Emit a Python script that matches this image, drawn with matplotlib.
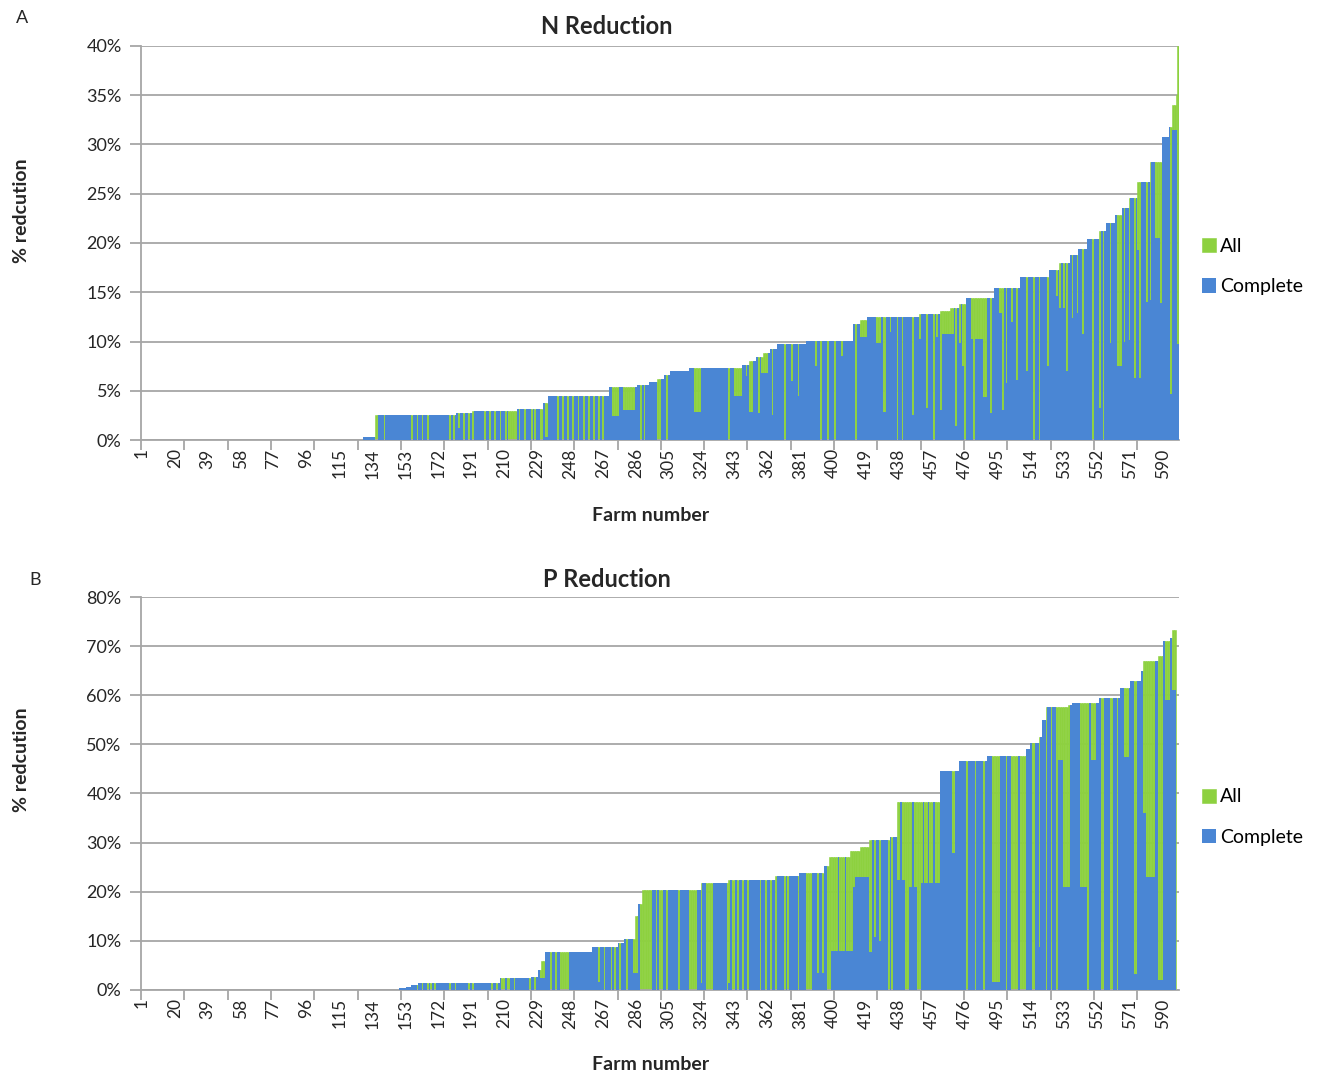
import numpy as np
import matplotlib.pyplot as plt
from matplotlib.ticker import PercentFormatter

plt.rcParams['font.family'] = ['Lato', 'DejaVu Sans']

GREEN = '#8DD13F'
BLUE = '#4A86D4'
GRID = '#A6A6A6'

N_FARMS = 599
farm_ids = np.arange(1, N_FARMS + 1)
tick_farms = list(range(1, 591, 19))

n_all_runs = [
    (129, 135, 0.3), (136, 182, 2.5), (183, 191, 2.7), (192, 217, 2.9),
    (218, 232, 3.1), (233, 235, 3.8), (236, 270, 4.5), (271, 286, 5.4),
    (287, 293, 5.6), (294, 298, 5.9), (299, 302, 6.2), (303, 305, 6.6),
    (306, 316, 7.0), (317, 347, 7.3), (348, 351, 7.6), (352, 355, 8.0),
    (356, 359, 8.4), (360, 363, 8.8), (364, 367, 9.2), (368, 384, 9.7),
    (385, 411, 10.1), (412, 415, 11.8), (416, 419, 12.2), (420, 449, 12.5),
    (450, 461, 12.8), (462, 467, 13.1), (468, 472, 13.4), (473, 476, 13.8),
    (477, 492, 14.4), (493, 507, 15.4), (508, 524, 16.5), (525, 530, 17.3),
    (531, 536, 18.0), (537, 541, 18.8), (542, 546, 19.4), (547, 553, 20.4),
    (554, 557, 21.2), (558, 562, 22.0), (563, 566, 22.8), (567, 570, 23.6),
    (571, 575, 24.6), (576, 582, 26.2), (583, 589, 28.2), (590, 593, 30.8),
    (594, 595, 31.8), (596, 597, 34.0), (598, 598, 35.0), (599, 599, 40.0),
]

# farms where "Complete" sits below "All" (first farm, last farm, value)
n_complete_dips = [
    (136, 137, 0), (141, 141, 0), (157, 157, 0), (160, 160, 0), (163, 163, 0),
    (166, 166, 0), (179, 179, 0), (181, 181, 0), (184, 184, 1.2), (187, 187, 0),
    (190, 190, 0), (192, 192, 0), (199, 199, 0), (202, 202, 0), (205, 205, 0),
    (208, 208, 0), (211, 211, 0), (213, 217, 0), (219, 219, 0), (222, 222, 0),
    (226, 226, 0), (228, 228, 0), (231, 232, 0), (234, 235, 0.3), (241, 241, 0),
    (244, 244, 0), (247, 247, 0), (250, 250, 0), (253, 253, 0), (256, 256, 0),
    (259, 259, 0), (262, 262, 0), (265, 265, 0), (267, 267, 0), (273, 276, 2.4),
    (279, 285, 3.0), (289, 289, 0), (291, 291, 0), (299, 300, 0), (304, 304, 0),
    (320, 323, 2.8), (340, 340, 0), (343, 347, 4.5), (350, 350, 6.5),
    (352, 353, 2.8), (357, 357, 2.7), (359, 362, 6.8), (365, 365, 2.5),
    (372, 372, 0), (376, 376, 6.0), (380, 380, 4.5), (390, 390, 7.5),
    (393, 393, 0), (397, 397, 0), (401, 401, 0), (405, 405, 8.5), (413, 413, 0),
    (416, 419, 10.5), (425, 427, 9.8), (429, 430, 2.8), (433, 433, 11.0),
    (437, 437, 0), (440, 440, 0), (446, 446, 2.5), (450, 450, 10.3),
    (454, 454, 3.2), (458, 458, 0), (460, 460, 10.5), (462, 462, 3.0),
    (463, 469, 10.8), (471, 471, 1.4), (473, 473, 9.8), (475, 475, 7.5),
    (476, 476, 0), (480, 486, 10.3), (481, 481, 0), (487, 488, 4.4),
    (491, 491, 2.7), (496, 497, 12.9), (498, 498, 3.0), (500, 500, 5.8),
    (503, 503, 12.0), (506, 506, 6.1), (512, 512, 7.0), (516, 516, 0),
    (519, 519, 0), (524, 524, 7.5), (529, 529, 14.6), (531, 531, 13.4),
    (533, 533, 13.4), (535, 535, 7.0), (538, 538, 12.4), (541, 541, 12.9),
    (544, 544, 10.8), (550, 550, 0), (554, 554, 3.2), (556, 556, 0),
    (560, 560, 9.8), (564, 566, 7.5), (568, 568, 10.0), (571, 571, 10.2),
    (574, 574, 6.3), (576, 576, 19.3), (577, 577, 6.3), (581, 581, 14.0),
    (583, 583, 14.2), (586, 588, 20.5), (589, 589, 13.9), (595, 595, 4.7),
    (596, 598, 31.5), (599, 599, 9.7),
]

p_all_runs = [
    (150, 153, 0.4), (154, 156, 0.7), (157, 160, 1.1), (161, 207, 1.4),
    (208, 225, 2.4), (226, 229, 2.7), (230, 231, 4.0), (232, 233, 6.0),
    (234, 260, 7.8), (261, 275, 8.8), (276, 279, 9.5), (280, 285, 10.3),
    (286, 287, 15.0), (288, 289, 17.5), (290, 323, 20.4), (324, 339, 21.8),
    (340, 366, 22.4), (367, 380, 23.2), (381, 394, 23.8), (395, 397, 25.2),
    (398, 409, 27.0), (410, 415, 28.2), (416, 420, 29.2), (421, 432, 30.5),
    (433, 436, 31.2), (437, 461, 38.3), (462, 472, 44.6), (473, 488, 46.6),
    (489, 511, 47.6), (512, 513, 49.0), (514, 518, 50.2), (519, 520, 51.6),
    (521, 522, 55.0), (523, 535, 57.7), (536, 537, 58.0), (538, 553, 58.5),
    (554, 565, 59.5), (566, 571, 61.5), (572, 577, 63.0), (578, 578, 65.0),
    (579, 587, 66.9), (588, 590, 68.0), (591, 594, 71.0), (595, 595, 71.6),
    (596, 597, 73.3),
]

p_complete_dips = [
    (160, 160, 0), (163, 163, 0), (166, 166, 0), (168, 168, 0), (170, 170, 0),
    (179, 179, 0), (182, 182, 0), (190, 190, 0), (192, 192, 0), (203, 203, 0),
    (206, 206, 0), (209, 210, 0), (212, 213, 0), (216, 216, 0), (225, 225, 0),
    (228, 228, 0), (231, 233, 2.5), (237, 237, 0), (240, 240, 0), (243, 247, 0),
    (265, 265, 1.7), (268, 268, 0), (272, 272, 0), (274, 274, 0), (277, 277, 0),
    (281, 281, 0), (285, 287, 3.4), (289, 295, 0), (298, 298, 0), (300, 301, 0),
    (304, 304, 0), (311, 311, 0), (317, 321, 0), (324, 324, 1.4), (327, 330, 0),
    (339, 339, 0), (340, 340, 1.4), (342, 343, 0), (345, 345, 0), (348, 348, 0),
    (351, 351, 0), (358, 358, 0), (361, 361, 0), (364, 364, 0), (367, 367, 0),
    (372, 372, 0), (374, 374, 0), (380, 380, 0), (385, 387, 0), (391, 391, 3.4),
    (394, 394, 3.4), (397, 398, 0), (399, 402, 7.9), (404, 406, 7.9),
    (408, 411, 7.9), (412, 412, 21.0), (413, 420, 23.0), (421, 422, 7.8),
    (424, 424, 10.8), (427, 427, 10.0), (432, 432, 0), (434, 434, 0),
    (437, 438, 22.4), (440, 441, 22.4), (442, 443, 0), (444, 445, 21.0),
    (447, 448, 21.0), (449, 450, 0), (451, 451, 21.7), (453, 454, 21.7),
    (456, 457, 21.7), (459, 461, 21.7), (469, 470, 27.8), (477, 477, 0),
    (482, 482, 0), (487, 487, 0), (492, 496, 1.7), (500, 500, 0), (503, 506, 0),
    (508, 511, 0), (515, 516, 0), (519, 519, 8.7), (523, 523, 0), (526, 526, 0),
    (529, 529, 0), (530, 532, 46.8), (533, 536, 21.0), (543, 546, 21.0),
    (547, 547, 0), (549, 551, 46.8), (555, 556, 0), (560, 561, 0), (564, 564, 0),
    (568, 570, 47.5), (574, 575, 3.3), (579, 580, 36.0), (581, 585, 23.0),
    (588, 590, 2.0), (592, 594, 59.0), (596, 597, 61.0),
]


def expand(runs, base=None):
    vals = np.zeros(N_FARMS) if base is None else base.copy()
    for start, end, v in runs:
        vals[start - 1:end] = v
    return vals


def draw_panel(ax, all_vals, complete_vals, ymax, ystep):
    ax.bar(farm_ids, all_vals, width=1.0, color=GREEN, edgecolor=GREEN,
           linewidth=0.4, label='All', zorder=2)
    ax.bar(farm_ids, complete_vals, width=1.0, color=BLUE, linewidth=0,
           label='Complete', zorder=3)

    ax.set_xlim(0.5, N_FARMS + 0.5)
    ax.set_ylim(0, ymax)
    ax.set_yticks(np.arange(0, ymax + 1, ystep))
    ax.yaxis.set_major_formatter(PercentFormatter(100, decimals=0))
    ax.grid(axis='y', color=GRID, linewidth=1.3, zorder=0)
    ax.set_axisbelow(True)

    for side in ['top', 'right']:
        ax.spines[side].set_visible(False)
    for side in ['left', 'bottom']:
        ax.spines[side].set_color(GRID)
        ax.spines[side].set_linewidth(1.3)

    ax.set_xticks(tick_farms)
    ax.set_xticklabels([str(t) for t in tick_farms], rotation=90)
    ax.set_xticks(np.arange(0.5, N_FARMS + 1, 25), minor=True)
    ax.tick_params(axis='x', which='major', length=0, pad=6,
                   labelsize=12.5, labelcolor='#262626')
    ax.tick_params(axis='x', which='minor', length=7, width=1.3, color=GRID)
    ax.tick_params(axis='y', length=8, width=1.3, color=GRID, pad=6,
                   labelsize=13, labelcolor='#262626')

    handles, labels = ax.get_legend_handles_labels()
    ax.legend(handles, labels, loc='center left', bbox_to_anchor=(1.005, 0.44),
              frameon=False, fontsize=14, handlelength=0.75, handleheight=0.75,
              handletextpad=0.2, labelspacing=1.2)


n_all = expand(n_all_runs)
n_complete = np.minimum(expand(n_complete_dips, n_all), n_all)
p_all = expand(p_all_runs)
p_complete = np.minimum(expand(p_complete_dips, p_all), p_all)

fig = plt.figure(figsize=(13.25, 10.79), dpi=100)
ax_n = fig.add_axes([0.1064, 0.5922, 0.7834, 0.3652])
ax_p = fig.add_axes([0.1064, 0.0825, 0.7834, 0.3642])

draw_panel(ax_n, n_all, n_complete, 40, 5)
draw_panel(ax_p, p_all, p_complete, 80, 10)

fig.text(0.458, 0.975, 'N Reduction', ha='center', va='center',
         fontsize=17, fontweight='bold', color='#262626')
fig.text(0.458, 0.4625, 'P Reduction', ha='center', va='center',
         fontsize=17, fontweight='bold', color='#262626')
fig.text(0.491, 0.5227, 'Farm number', ha='center', va='center',
         fontsize=14, fontweight='bold', color='#262626')
fig.text(0.491, 0.013, 'Farm number', ha='center', va='center',
         fontsize=14, fontweight='bold', color='#262626')
fig.text(0.0166, 0.805, '% redcution', ha='center', va='center', rotation=90,
         fontsize=14, fontweight='bold', color='#262626')
fig.text(0.0166, 0.2956, '% redcution', ha='center', va='center', rotation=90,
         fontsize=14, fontweight='bold', color='#262626')
fig.text(0.0166, 0.983, 'A', ha='center', va='center', fontsize=13, color='#262626')
fig.text(0.0264, 0.4625, 'B', ha='center', va='center', fontsize=13, color='#262626')

plt.savefig('out.png', dpi=100)
